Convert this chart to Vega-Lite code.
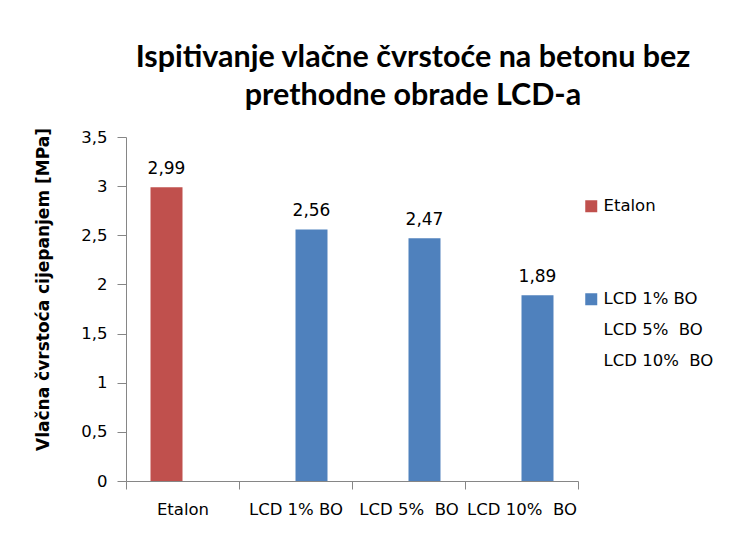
{
  "$schema": "https://vega.github.io/schema/vega-lite/v6.json",
  "width": 452,
  "height": 344,
  "autosize": {"type": "none"},
  "padding": {"left": 126, "top": 137, "right": 157, "bottom": 53},
  "background": "white",
  "title": {
    "text": ["Ispitivanje vlačne čvrstoće na betonu bez", "prethodne obrade LCD-a"],
    "font": "Lato",
    "fontSize": 30.5,
    "fontWeight": "bold",
    "color": "#000000",
    "anchor": "middle",
    "frame": "group",
    "dx": 61,
    "lineHeight": 38,
    "offset": 16
  },
  "config": {
    "view": {"stroke": null},
    "locale": {
      "number": {"decimal": ",", "thousands": ".", "grouping": [3], "currency": ["", " €"]}
    }
  },
  "data": {
    "values": [
      {"cat": "Etalon", "series": "Etalon", "v": 2.99},
      {"cat": "LCD 1% BO", "series": "LCD 1% BO", "v": 2.56},
      {"cat": "LCD 5%\u00a0 BO", "series": "LCD 1% BO", "v": 2.47},
      {"cat": "LCD 10%\u00a0 BO", "series": "LCD 1% BO", "v": 1.89}
    ]
  },
  "encoding": {
    "x": {
      "field": "cat",
      "type": "nominal",
      "sort": null,
      "scale": {"paddingInner": 0, "paddingOuter": 0},
      "axis": {
        "title": null,
        "labelAngle": 0,
        "labelFont": "DejaVu Sans",
        "labelFontSize": 16.5,
        "labelColor": "#000000",
        "labelOverlap": false,
        "labelBound": false,
        "labelPadding": 12,
        "tickBand": "extent",
        "tickSize": 8,
        "tickColor": "#868686",
        "domainColor": "#868686",
        "grid": false
      }
    },
    "xOffset": {
      "field": "series",
      "type": "nominal",
      "scale": {"domain": ["Etalon", "LCD 1% BO"], "paddingInner": 0, "paddingOuter": 0.766}
    },
    "y": {
      "field": "v",
      "type": "quantitative",
      "scale": {"domain": [0, 3.5]},
      "axis": {
        "title": "Vlačna čvrstoća cijepanjem [MPa]",
        "titleFont": "DejaVu Sans",
        "titleFontSize": 17,
        "titleFontWeight": "bold",
        "titleColor": "#000000",
        "titleX": -83,
        "titleY": 152,
        "titleAlign": "center",
        "titleBaseline": "middle",
        "values": [0, 0.5, 1, 1.5, 2, 2.5, 3, 3.5],
        "format": ".1~f",
        "labelFont": "DejaVu Sans",
        "labelFontSize": 16.5,
        "labelColor": "#000000",
        "labelPadding": 10,
        "tickSize": 9,
        "tickColor": "#868686",
        "domainColor": "#868686",
        "grid": false
      }
    }
  },
  "layer": [
    {
      "mark": {"type": "bar"},
      "encoding": {
        "color": {
          "field": "series",
          "type": "nominal",
          "scale": {
            "domain": ["Etalon", " ", "  ", "LCD 1% BO", "LCD 5%\u00a0 BO", "LCD 10%\u00a0 BO"],
            "range": ["#C0504D", "rgba(0,0,0,0)", "rgba(0,0,0,0)", "#4F81BD", "rgba(0,0,0,0)", "rgba(0,0,0,0)"]
          },
          "legend": {
            "title": null,
            "orient": "none",
            "legendX": 457,
            "legendY": 61,
            "symbolType": "square",
            "symbolSize": 144,
            "symbolStrokeWidth": 0,
            "labelFont": "DejaVu Sans",
            "labelFontSize": 16.5,
            "labelColor": "#000000",
            "labelOffset": 4,
            "rowPadding": 14
          }
        }
      }
    },
    {
      "mark": {"type": "text", "baseline": "bottom", "dy": -9, "font": "DejaVu Sans", "fontSize": 17, "color": "#000000"},
      "encoding": {
        "text": {"field": "v", "type": "quantitative", "format": ".2f"}
      }
    }
  ]
}
